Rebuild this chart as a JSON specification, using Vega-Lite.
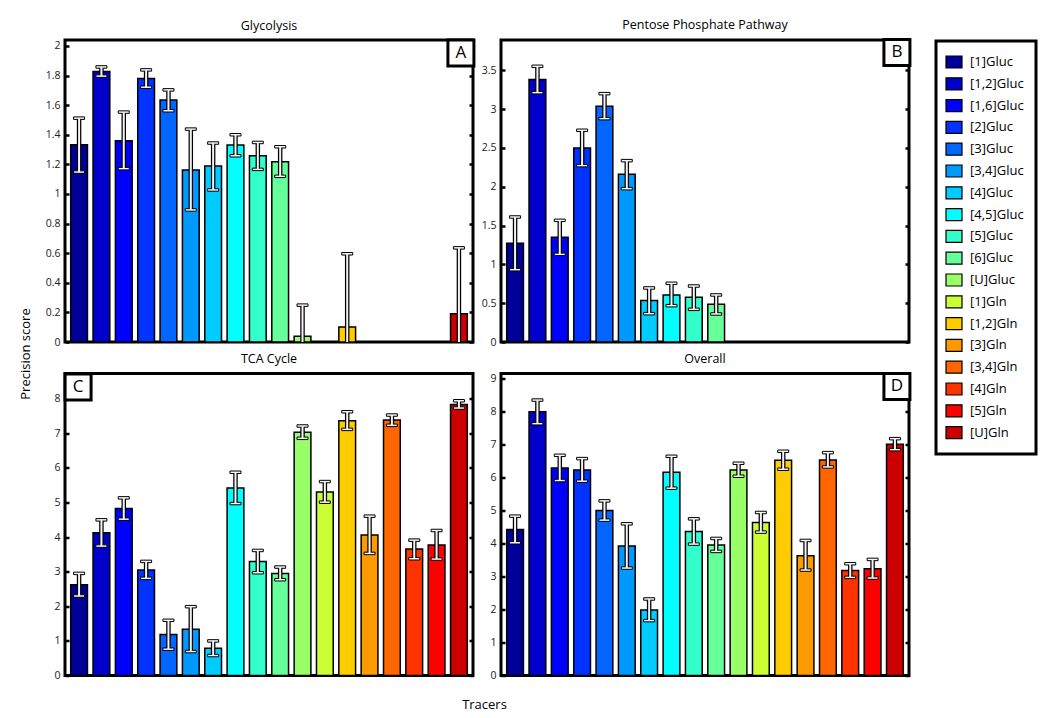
{
  "$schema": "https://vega.github.io/schema/vega-lite/v6.json",
  "background": "white",
  "padding": {"left": 17, "top": 17, "right": 5, "bottom": 5},
  "autosize": {"type": "pad"},
  "title": {"text": "Tracers", "orient": "bottom", "anchor": "middle", "fontSize": 13, "fontWeight": "normal", "font": "Open Sans", "offset": 16, "dx": -43},
  "datasets": {
    "scores": [
      {"pathway": "Glycolysis", "tracer": "[1]Gluc", "score": 1.333, "lo": 1.148, "hi": 1.512},
      {"pathway": "Glycolysis", "tracer": "[1,2]Gluc", "score": 1.827, "lo": 1.796, "hi": 1.858},
      {"pathway": "Glycolysis", "tracer": "[1,6]Gluc", "score": 1.36, "lo": 1.171, "hi": 1.553},
      {"pathway": "Glycolysis", "tracer": "[2]Gluc", "score": 1.78, "lo": 1.721, "hi": 1.838},
      {"pathway": "Glycolysis", "tracer": "[3]Gluc", "score": 1.634, "lo": 1.562, "hi": 1.703},
      {"pathway": "Glycolysis", "tracer": "[3,4]Gluc", "score": 1.162, "lo": 0.892, "hi": 1.438},
      {"pathway": "Glycolysis", "tracer": "[4]Gluc", "score": 1.189, "lo": 1.027, "hi": 1.344},
      {"pathway": "Glycolysis", "tracer": "[4,5]Gluc", "score": 1.33, "lo": 1.258, "hi": 1.4},
      {"pathway": "Glycolysis", "tracer": "[5]Gluc", "score": 1.258, "lo": 1.166, "hi": 1.348},
      {"pathway": "Glycolysis", "tracer": "[6]Gluc", "score": 1.218, "lo": 1.119, "hi": 1.319},
      {"pathway": "Glycolysis", "tracer": "[U]Gluc", "score": 0.038, "lo": -0.173, "hi": 0.249},
      {"pathway": "Glycolysis", "tracer": "[1,2]Gln", "score": 0.101, "lo": -0.394, "hi": 0.596},
      {"pathway": "Glycolysis", "tracer": "[U]Gln", "score": 0.191, "lo": -0.254, "hi": 0.636},
      {"pathway": "Pentose Phosphate Pathway", "tracer": "[1]Gluc", "score": 1.271, "lo": 0.932, "hi": 1.61},
      {"pathway": "Pentose Phosphate Pathway", "tracer": "[1,2]Gluc", "score": 3.38, "lo": 3.212, "hi": 3.551},
      {"pathway": "Pentose Phosphate Pathway", "tracer": "[1,6]Gluc", "score": 1.348, "lo": 1.129, "hi": 1.567},
      {"pathway": "Pentose Phosphate Pathway", "tracer": "[2]Gluc", "score": 2.499, "lo": 2.272, "hi": 2.727},
      {"pathway": "Pentose Phosphate Pathway", "tracer": "[3]Gluc", "score": 3.036, "lo": 2.877, "hi": 3.199},
      {"pathway": "Pentose Phosphate Pathway", "tracer": "[3,4]Gluc", "score": 2.16, "lo": 1.975, "hi": 2.336},
      {"pathway": "Pentose Phosphate Pathway", "tracer": "[4]Gluc", "score": 0.533, "lo": 0.365, "hi": 0.696},
      {"pathway": "Pentose Phosphate Pathway", "tracer": "[4,5]Gluc", "score": 0.606, "lo": 0.468, "hi": 0.756},
      {"pathway": "Pentose Phosphate Pathway", "tracer": "[5]Gluc", "score": 0.575, "lo": 0.421, "hi": 0.721},
      {"pathway": "Pentose Phosphate Pathway", "tracer": "[6]Gluc", "score": 0.485, "lo": 0.361, "hi": 0.606},
      {"pathway": "TCA Cycle", "tracer": "[1]Gluc", "score": 2.625, "lo": 2.298, "hi": 2.952},
      {"pathway": "TCA Cycle", "tracer": "[1,2]Gluc", "score": 4.125, "lo": 3.74, "hi": 4.5},
      {"pathway": "TCA Cycle", "tracer": "[1,6]Gluc", "score": 4.827, "lo": 4.519, "hi": 5.135},
      {"pathway": "TCA Cycle", "tracer": "[2]Gluc", "score": 3.048, "lo": 2.808, "hi": 3.298},
      {"pathway": "TCA Cycle", "tracer": "[3]Gluc", "score": 1.183, "lo": 0.76, "hi": 1.596},
      {"pathway": "TCA Cycle", "tracer": "[3,4]Gluc", "score": 1.337, "lo": 0.692, "hi": 1.99},
      {"pathway": "TCA Cycle", "tracer": "[4]Gluc", "score": 0.788, "lo": 0.577, "hi": 1.0},
      {"pathway": "TCA Cycle", "tracer": "[4,5]Gluc", "score": 5.423, "lo": 4.971, "hi": 5.875},
      {"pathway": "TCA Cycle", "tracer": "[5]Gluc", "score": 3.298, "lo": 2.971, "hi": 3.615},
      {"pathway": "TCA Cycle", "tracer": "[6]Gluc", "score": 2.952, "lo": 2.769, "hi": 3.135},
      {"pathway": "TCA Cycle", "tracer": "[U]Gluc", "score": 7.029, "lo": 6.856, "hi": 7.212},
      {"pathway": "TCA Cycle", "tracer": "[1]Gln", "score": 5.308, "lo": 5.01, "hi": 5.606},
      {"pathway": "TCA Cycle", "tracer": "[1,2]Gln", "score": 7.365, "lo": 7.115, "hi": 7.625},
      {"pathway": "TCA Cycle", "tracer": "[3]Gln", "score": 4.058, "lo": 3.529, "hi": 4.606},
      {"pathway": "TCA Cycle", "tracer": "[3,4]Gln", "score": 7.385, "lo": 7.231, "hi": 7.529},
      {"pathway": "TCA Cycle", "tracer": "[4]Gln", "score": 3.654, "lo": 3.375, "hi": 3.913},
      {"pathway": "TCA Cycle", "tracer": "[5]Gln", "score": 3.769, "lo": 3.365, "hi": 4.192},
      {"pathway": "TCA Cycle", "tracer": "[U]Gln", "score": 7.837, "lo": 7.731, "hi": 7.942},
      {"pathway": "Overall", "tracer": "[1]Gluc", "score": 4.429, "lo": 4.026, "hi": 4.833},
      {"pathway": "Overall", "tracer": "[1,2]Gluc", "score": 8.001, "lo": 7.638, "hi": 8.354},
      {"pathway": "Overall", "tracer": "[1,6]Gluc", "score": 6.296, "lo": 5.913, "hi": 6.679},
      {"pathway": "Overall", "tracer": "[2]Gluc", "score": 6.236, "lo": 5.893, "hi": 6.579},
      {"pathway": "Overall", "tracer": "[3]Gluc", "score": 5.005, "lo": 4.712, "hi": 5.297},
      {"pathway": "Overall", "tracer": "[3,4]Gluc", "score": 3.925, "lo": 3.259, "hi": 4.601},
      {"pathway": "Overall", "tracer": "[4]Gluc", "score": 1.988, "lo": 1.665, "hi": 2.321},
      {"pathway": "Overall", "tracer": "[4,5]Gluc", "score": 6.165, "lo": 5.681, "hi": 6.649},
      {"pathway": "Overall", "tracer": "[5]Gluc", "score": 4.369, "lo": 3.985, "hi": 4.752},
      {"pathway": "Overall", "tracer": "[6]Gluc", "score": 3.955, "lo": 3.763, "hi": 4.157},
      {"pathway": "Overall", "tracer": "[U]Gluc", "score": 6.236, "lo": 6.044, "hi": 6.437},
      {"pathway": "Overall", "tracer": "[1]Gln", "score": 4.641, "lo": 4.349, "hi": 4.944},
      {"pathway": "Overall", "tracer": "[1,2]Gln", "score": 6.528, "lo": 6.256, "hi": 6.801},
      {"pathway": "Overall", "tracer": "[3]Gln", "score": 3.632, "lo": 3.198, "hi": 4.096},
      {"pathway": "Overall", "tracer": "[3,4]Gln", "score": 6.538, "lo": 6.326, "hi": 6.76},
      {"pathway": "Overall", "tracer": "[4]Gln", "score": 3.188, "lo": 2.976, "hi": 3.39},
      {"pathway": "Overall", "tracer": "[5]Gln", "score": 3.239, "lo": 2.956, "hi": 3.521},
      {"pathway": "Overall", "tracer": "[U]Gln", "score": 7.012, "lo": 6.851, "hi": 7.184}
    ]
  },
  "bounds": "flush",
  "columns": 2,
  "spacing": {"row": 31.5, "column": 28},
  "concat": [
    {
      "title": {"text": "Glycolysis"},
      "width": 408, "height": 302,
      "data": {"name": "scores"},
      "transform": [{"filter": "datum.pathway === 'Glycolysis'"}],
      "encoding": {"x": {"field": "tracer", "type": "nominal", "axis": null, "scale": {"domain": ["[1]Gluc","[1,2]Gluc","[1,6]Gluc","[2]Gluc","[3]Gluc","[3,4]Gluc","[4]Gluc","[4,5]Gluc","[5]Gluc","[6]Gluc","[U]Gluc","[1]Gln","[1,2]Gln","[3]Gln","[3,4]Gln","[4]Gln","[5]Gln","[U]Gln"], "paddingInner": 0.25, "paddingOuter": 0.255}}},
      "layer": [
        {"mark": {"type": "bar", "stroke": "black", "strokeWidth": 1.5},
         "encoding": {
           "y": {"field": "score", "type": "quantitative", "scale": {"domain": [0, 2.04], "nice": false}, "axis": {"values": [0,0.2,0.4,0.6,0.8,1,1.2,1.4,1.6,1.8,2], "format": "~g", "title": "Precision score", "titleX": -40, "titleY": 313.5, "titleBaseline": "middle", "titleAngle": -90}},
           "color": {"field": "tracer", "type": "nominal", "scale": {"domain": ["[1]Gluc","[1,2]Gluc","[1,6]Gluc","[2]Gluc","[3]Gluc","[3,4]Gluc","[4]Gluc","[4,5]Gluc","[5]Gluc","[6]Gluc","[U]Gluc","[1]Gln","[1,2]Gln","[3]Gln","[3,4]Gln","[4]Gln","[5]Gln","[U]Gln"], "range": ["#000099","#0000CC","#0000FF","#0033FF","#0066FF","#0099FF","#00CCFF","#00FFFF","#33FFCC","#66FF99","#99FF66","#CCFF33","#FFCC00","#FF9900","#FF6600","#FF3300","#FF0000","#CC0000"]}, "legend": {"orient": "none", "legendX": 871, "legendY": 1, "title": null}}
         }},
        {"mark": {"type": "rule", "color": "black", "strokeWidth": 4.5, "clip": true},
         "encoding": {"y": {"field": "lo", "type": "quantitative", "axis": {"orient": "right", "labels": false, "title": null, "values": [0,0.2,0.4,0.6,0.8,1,1.2,1.4,1.6,1.8,2]}}, "y2": {"field": "hi"}}},
        {"mark": {"type": "tick", "fill": "#f4f4f4", "stroke": "black", "strokeWidth": 1, "thickness": 2.5, "size": 11, "opacity": 1, "clip": true},
         "encoding": {"y": {"field": "lo", "type": "quantitative", "axis": null}}},
        {"mark": {"type": "tick", "fill": "#f4f4f4", "stroke": "black", "strokeWidth": 1, "thickness": 2.5, "size": 11, "opacity": 1, "clip": true},
         "encoding": {"y": {"field": "hi", "type": "quantitative", "axis": null}}},
        {"mark": {"type": "rule", "color": "#f4f4f4", "strokeWidth": 2, "clip": true},
         "encoding": {"y": {"field": "lo", "type": "quantitative", "axis": null}, "y2": {"field": "hi"}}},
        {"data": {"values": [{"pathway": "Glycolysis", "label": "A"}]},
         "mark": {"type": "point", "shape": "square", "size": 676, "filled": true, "fill": "white", "stroke": "black", "strokeWidth": 3, "opacity": 1, "xOffset": 2},
         "encoding": {"x": {"datum": "[U]Gln", "type": "nominal"}, "y": {"datum": 1.952, "type": "quantitative", "axis": null}}},
        {"data": {"values": [{"pathway": "Glycolysis", "label": "A"}]},
         "mark": {"type": "text", "fontSize": 17, "font": "Open Sans", "xOffset": 2, "baseline": "middle", "align": "center", "color": "black"},
         "encoding": {"x": {"datum": "[U]Gln", "type": "nominal"}, "y": {"datum": 1.952, "type": "quantitative", "axis": null}, "text": {"field": "label"}}}
      ],
      "resolve": {"axis": {"y": "independent"}}
    },
    {
      "title": {"text": "Pentose Phosphate Pathway"},
      "width": 408, "height": 302,
      "data": {"name": "scores"},
      "transform": [{"filter": "datum.pathway === 'Pentose Phosphate Pathway'"}],
      "encoding": {"x": {"field": "tracer", "type": "nominal", "axis": null, "scale": {"domain": ["[1]Gluc","[1,2]Gluc","[1,6]Gluc","[2]Gluc","[3]Gluc","[3,4]Gluc","[4]Gluc","[4,5]Gluc","[5]Gluc","[6]Gluc","[U]Gluc","[1]Gln","[1,2]Gln","[3]Gln","[3,4]Gln","[4]Gln","[5]Gln","[U]Gln"], "paddingInner": 0.25, "paddingOuter": 0.255}}},
      "layer": [
        {"mark": {"type": "bar", "stroke": "black", "strokeWidth": 1.5},
         "encoding": {
           "y": {"field": "score", "type": "quantitative", "scale": {"domain": [0, 3.89], "nice": false}, "axis": {"values": [0,0.5,1,1.5,2,2.5,3,3.5], "format": "~g", "title": null}},
           "color": {"field": "tracer", "type": "nominal", "scale": {"domain": ["[1]Gluc","[1,2]Gluc","[1,6]Gluc","[2]Gluc","[3]Gluc","[3,4]Gluc","[4]Gluc","[4,5]Gluc","[5]Gluc","[6]Gluc","[U]Gluc","[1]Gln","[1,2]Gln","[3]Gln","[3,4]Gln","[4]Gln","[5]Gln","[U]Gln"], "range": ["#000099","#0000CC","#0000FF","#0033FF","#0066FF","#0099FF","#00CCFF","#00FFFF","#33FFCC","#66FF99","#99FF66","#CCFF33","#FFCC00","#FF9900","#FF6600","#FF3300","#FF0000","#CC0000"]}, "legend": {"orient": "none", "legendX": 871, "legendY": 1, "title": null}}
         }},
        {"mark": {"type": "rule", "color": "black", "strokeWidth": 4.5, "clip": true},
         "encoding": {"y": {"field": "lo", "type": "quantitative", "axis": {"orient": "right", "labels": false, "title": null, "values": [0,0.5,1,1.5,2,2.5,3,3.5]}}, "y2": {"field": "hi"}}},
        {"mark": {"type": "tick", "fill": "#f4f4f4", "stroke": "black", "strokeWidth": 1, "thickness": 2.5, "size": 11, "opacity": 1, "clip": true},
         "encoding": {"y": {"field": "lo", "type": "quantitative", "axis": null}}},
        {"mark": {"type": "tick", "fill": "#f4f4f4", "stroke": "black", "strokeWidth": 1, "thickness": 2.5, "size": 11, "opacity": 1, "clip": true},
         "encoding": {"y": {"field": "hi", "type": "quantitative", "axis": null}}},
        {"mark": {"type": "rule", "color": "#f4f4f4", "strokeWidth": 2, "clip": true},
         "encoding": {"y": {"field": "lo", "type": "quantitative", "axis": null}, "y2": {"field": "hi"}}},
        {"data": {"values": [{"pathway": "Pentose Phosphate Pathway", "label": "B"}]},
         "mark": {"type": "point", "shape": "square", "size": 676, "filled": true, "fill": "white", "stroke": "black", "strokeWidth": 3, "opacity": 1, "xOffset": 2},
         "encoding": {"x": {"datum": "[U]Gln", "type": "nominal"}, "y": {"datum": 3.729, "type": "quantitative", "axis": null}}},
        {"data": {"values": [{"pathway": "Pentose Phosphate Pathway", "label": "B"}]},
         "mark": {"type": "text", "fontSize": 17, "font": "Open Sans", "xOffset": 2, "baseline": "middle", "align": "center", "color": "black"},
         "encoding": {"x": {"datum": "[U]Gln", "type": "nominal"}, "y": {"datum": 3.729, "type": "quantitative", "axis": null}, "text": {"field": "label"}}}
      ],
      "resolve": {"axis": {"y": "independent"}}
    },
    {
      "title": {"text": "TCA Cycle"},
      "width": 408, "height": 302,
      "data": {"name": "scores"},
      "transform": [{"filter": "datum.pathway === 'TCA Cycle'"}],
      "encoding": {"x": {"field": "tracer", "type": "nominal", "axis": null, "scale": {"domain": ["[1]Gluc","[1,2]Gluc","[1,6]Gluc","[2]Gluc","[3]Gluc","[3,4]Gluc","[4]Gluc","[4,5]Gluc","[5]Gluc","[6]Gluc","[U]Gluc","[1]Gln","[1,2]Gln","[3]Gln","[3,4]Gln","[4]Gln","[5]Gln","[U]Gln"], "paddingInner": 0.25, "paddingOuter": 0.255}}},
      "layer": [
        {"mark": {"type": "bar", "stroke": "black", "strokeWidth": 1.5},
         "encoding": {
           "y": {"field": "score", "type": "quantitative", "scale": {"domain": [0, 8.73], "nice": false}, "axis": {"values": [0,1,2,3,4,5,6,7,8], "format": "~g", "title": null}},
           "color": {"field": "tracer", "type": "nominal", "scale": {"domain": ["[1]Gluc","[1,2]Gluc","[1,6]Gluc","[2]Gluc","[3]Gluc","[3,4]Gluc","[4]Gluc","[4,5]Gluc","[5]Gluc","[6]Gluc","[U]Gluc","[1]Gln","[1,2]Gln","[3]Gln","[3,4]Gln","[4]Gln","[5]Gln","[U]Gln"], "range": ["#000099","#0000CC","#0000FF","#0033FF","#0066FF","#0099FF","#00CCFF","#00FFFF","#33FFCC","#66FF99","#99FF66","#CCFF33","#FFCC00","#FF9900","#FF6600","#FF3300","#FF0000","#CC0000"]}, "legend": {"orient": "none", "legendX": 871, "legendY": 1, "title": null}}
         }},
        {"mark": {"type": "rule", "color": "black", "strokeWidth": 4.5, "clip": true},
         "encoding": {"y": {"field": "lo", "type": "quantitative", "axis": {"orient": "right", "labels": false, "title": null, "values": [0,1,2,3,4,5,6,7,8]}}, "y2": {"field": "hi"}}},
        {"mark": {"type": "tick", "fill": "#f4f4f4", "stroke": "black", "strokeWidth": 1, "thickness": 2.5, "size": 11, "opacity": 1, "clip": true},
         "encoding": {"y": {"field": "lo", "type": "quantitative", "axis": null}}},
        {"mark": {"type": "tick", "fill": "#f4f4f4", "stroke": "black", "strokeWidth": 1, "thickness": 2.5, "size": 11, "opacity": 1, "clip": true},
         "encoding": {"y": {"field": "hi", "type": "quantitative", "axis": null}}},
        {"mark": {"type": "rule", "color": "#f4f4f4", "strokeWidth": 2, "clip": true},
         "encoding": {"y": {"field": "lo", "type": "quantitative", "axis": null}, "y2": {"field": "hi"}}},
        {"data": {"values": [{"pathway": "TCA Cycle", "label": "C"}]},
         "mark": {"type": "point", "shape": "square", "size": 676, "filled": true, "fill": "white", "stroke": "black", "strokeWidth": 3, "opacity": 1, "xOffset": -1},
         "encoding": {"x": {"datum": "[1]Gluc", "type": "nominal"}, "y": {"datum": 8.34, "type": "quantitative", "axis": null}}},
        {"data": {"values": [{"pathway": "TCA Cycle", "label": "C"}]},
         "mark": {"type": "text", "fontSize": 17, "font": "Open Sans", "xOffset": -1, "baseline": "middle", "align": "center", "color": "black"},
         "encoding": {"x": {"datum": "[1]Gluc", "type": "nominal"}, "y": {"datum": 8.34, "type": "quantitative", "axis": null}, "text": {"field": "label"}}}
      ],
      "resolve": {"axis": {"y": "independent"}}
    },
    {
      "title": {"text": "Overall"},
      "width": 408, "height": 302,
      "data": {"name": "scores"},
      "transform": [{"filter": "datum.pathway === 'Overall'"}],
      "encoding": {"x": {"field": "tracer", "type": "nominal", "axis": null, "scale": {"domain": ["[1]Gluc","[1,2]Gluc","[1,6]Gluc","[2]Gluc","[3]Gluc","[3,4]Gluc","[4]Gluc","[4,5]Gluc","[5]Gluc","[6]Gluc","[U]Gluc","[1]Gln","[1,2]Gln","[3]Gln","[3,4]Gln","[4]Gln","[5]Gln","[U]Gln"], "paddingInner": 0.25, "paddingOuter": 0.255}}},
      "layer": [
        {"mark": {"type": "bar", "stroke": "black", "strokeWidth": 1.5},
         "encoding": {
           "y": {"field": "score", "type": "quantitative", "scale": {"domain": [0, 9.16], "nice": false}, "axis": {"values": [0,1,2,3,4,5,6,7,8,9], "format": "~g", "title": null}},
           "color": {"field": "tracer", "type": "nominal", "scale": {"domain": ["[1]Gluc","[1,2]Gluc","[1,6]Gluc","[2]Gluc","[3]Gluc","[3,4]Gluc","[4]Gluc","[4,5]Gluc","[5]Gluc","[6]Gluc","[U]Gluc","[1]Gln","[1,2]Gln","[3]Gln","[3,4]Gln","[4]Gln","[5]Gln","[U]Gln"], "range": ["#000099","#0000CC","#0000FF","#0033FF","#0066FF","#0099FF","#00CCFF","#00FFFF","#33FFCC","#66FF99","#99FF66","#CCFF33","#FFCC00","#FF9900","#FF6600","#FF3300","#FF0000","#CC0000"]}, "legend": {"orient": "none", "legendX": 871, "legendY": 1, "title": null}}
         }},
        {"mark": {"type": "rule", "color": "black", "strokeWidth": 4.5, "clip": true},
         "encoding": {"y": {"field": "lo", "type": "quantitative", "axis": {"orient": "right", "labels": false, "title": null, "values": [0,1,2,3,4,5,6,7,8,9]}}, "y2": {"field": "hi"}}},
        {"mark": {"type": "tick", "fill": "#f4f4f4", "stroke": "black", "strokeWidth": 1, "thickness": 2.5, "size": 11, "opacity": 1, "clip": true},
         "encoding": {"y": {"field": "lo", "type": "quantitative", "axis": null}}},
        {"mark": {"type": "tick", "fill": "#f4f4f4", "stroke": "black", "strokeWidth": 1, "thickness": 2.5, "size": 11, "opacity": 1, "clip": true},
         "encoding": {"y": {"field": "hi", "type": "quantitative", "axis": null}}},
        {"mark": {"type": "rule", "color": "#f4f4f4", "strokeWidth": 2, "clip": true},
         "encoding": {"y": {"field": "lo", "type": "quantitative", "axis": null}, "y2": {"field": "hi"}}},
        {"data": {"values": [{"pathway": "Overall", "label": "D"}]},
         "mark": {"type": "point", "shape": "square", "size": 676, "filled": true, "fill": "white", "stroke": "black", "strokeWidth": 3, "opacity": 1, "xOffset": 2},
         "encoding": {"x": {"datum": "[U]Gln", "type": "nominal"}, "y": {"datum": 8.766, "type": "quantitative", "axis": null}}},
        {"data": {"values": [{"pathway": "Overall", "label": "D"}]},
         "mark": {"type": "text", "fontSize": 17, "font": "Open Sans", "xOffset": 2, "baseline": "middle", "align": "center", "color": "black"},
         "encoding": {"x": {"datum": "[U]Gln", "type": "nominal"}, "y": {"datum": 8.766, "type": "quantitative", "axis": null}, "text": {"field": "label"}}}
      ],
      "resolve": {"axis": {"y": "independent"}}
    }
  ],
  "config": {
    "font": "Open Sans",
    "view": {"stroke": "black", "strokeWidth": 3},
    "title": {"font": "Open Sans", "fontSize": 12.5, "fontWeight": "normal", "color": "black", "offset": 2},
    "axis": {"domain": false, "grid": false, "labelFont": "Open Sans", "labelFontSize": 10.5, "labelColor": "#222", "tickColor": "black", "tickSize": -4, "tickWidth": 2.5, "labelPadding": 9, "titleFont": "Open Sans", "titleFontSize": 13, "titleFontWeight": "normal", "titleColor": "black"},
    "legend": {"strokeColor": "black", "strokeWidth": 3, "padding": 12, "symbolType": "M-1,-0.75H1V0.75H-1Z", "symbolSize": 256, "symbolStrokeColor": "black", "symbolStrokeWidth": 1.2, "symbolOpacity": 1, "symbolOffset": -3, "labelFont": "Open Sans", "labelFontSize": 13, "labelColor": "black", "labelOffset": 7, "rowPadding": 3.8}
  }
}
